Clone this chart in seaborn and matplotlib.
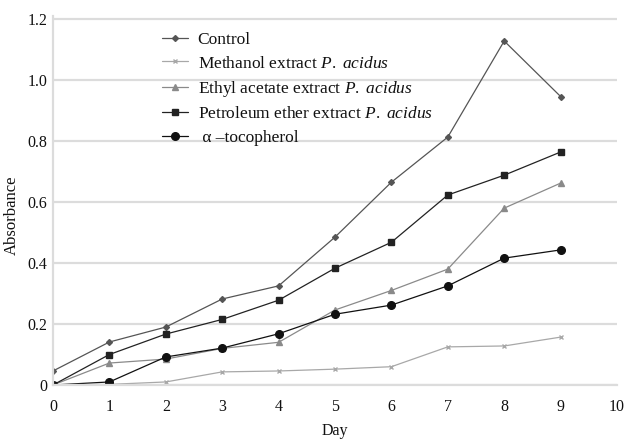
import matplotlib
matplotlib.use("Agg")
import matplotlib.pyplot as plt
import seaborn as sns
import pandas as pd

days = [0, 1, 2, 3, 4, 5, 6, 7, 8, 9]
control = [0.046, 0.141, 0.190, 0.282, 0.325, 0.485, 0.665, 0.813, 1.128, 0.946]
methanol = [0.0, 0.002, 0.010, 0.043, 0.046, 0.052, 0.060, 0.125, 0.128, 0.157]
ethyl = [0.0, 0.072, 0.085, 0.120, 0.140, 0.246, 0.310, 0.380, 0.580, 0.662]
petroleum = [0.0, 0.100, 0.167, 0.215, 0.278, 0.383, 0.468, 0.623, 0.688, 0.764]
tocopherol = [0.0, 0.010, 0.092, 0.121, 0.168, 0.232, 0.262, 0.325, 0.416, 0.443]

series_names = [
    "Control",
    "Methanol extract $\\mathit{P.\\ acidus}$",
    "Ethyl acetate extract $\\mathit{P.\\ acidus}$",
    "Petroleum ether extract $\\mathit{P.\\ acidus}$",
    " \u03b1 \u2013tocopherol",
]
series_values = [control, methanol, ethyl, petroleum, tocopherol]
y_ticks = [0, 0.2, 0.4, 0.6, 0.8, 1.0, 1.2]
y_tick_labels = ["0", "0.2", "0.4", "0.6", "0.8", "1.0", "1.2"]
x_ticks = [0, 1, 2, 3, 4, 5, 6, 7, 8, 9, 10]

rows = []
for name, vals in zip(series_names, series_values):
    for d, v in zip(days, vals):
        rows.append({"Day": d, "Absorbance": v, "Series": name})
df = pd.DataFrame(rows)

sns.set_theme(style="white")
plt.rcParams["font.family"] = ["Liberation Serif", "DejaVu Serif"]
plt.rcParams["mathtext.fontset"] = "custom"
plt.rcParams["mathtext.rm"] = "Liberation Serif"
plt.rcParams["mathtext.it"] = "Liberation Serif:italic"

colors = ["#555555", "#a8a8a8", "#8a8a8a", "#222222", "#111111"]
markers = ["D", "x", "^", "s", "o"]
msizes = [3.0, 3.5, 4.0, 4.5, 5.5]
palette = dict(zip(series_names, colors))

fig = plt.figure(figsize=(6.27, 4.42), dpi=100)
ax = fig.add_axes([53 / 627, 1 - 385 / 442, (617 - 53) / 627, (385 - 16) / 442])

for name, col, mk, ms in zip(series_names, colors, markers, msizes):
    sub = df[df["Series"] == name]
    sns.lineplot(data=sub, x="Day", y="Absorbance", ax=ax, color=col,
                 marker=mk, markersize=ms, linewidth=0.9, label=name,
                 markeredgecolor=col, markerfacecolor=col, markeredgewidth=1.0)

ax.set_xlim(0, 10)
ax.set_ylim(0, 1.21)
ax.set_xticks(x_ticks)
ax.set_xticklabels([str(t) for t in x_ticks])
ax.set_yticks(y_ticks)
ax.set_yticklabels(y_tick_labels)
ax.tick_params(axis="both", length=0, labelsize=11.5, colors="#111111")
ax.tick_params(axis="y", pad=4)
ax.tick_params(axis="x", pad=10)

ax.grid(axis="y", color="#dcdcdc", linewidth=1.6)
ax.grid(axis="x", visible=False)
for s in ["top", "right"]:
    ax.spines[s].set_visible(False)
for s in ["left", "bottom"]:
    ax.spines[s].set_color("#dcdcdc")
    ax.spines[s].set_linewidth(1.6)

ax.set_xlabel("Day", fontsize=11.5, color="#111111", labelpad=6)
ax.set_ylabel("Absorbance", fontsize=12, color="#111111", labelpad=4)
ax.yaxis.set_label_coords(-0.058, 0.46)

handles, labels = ax.get_legend_handles_labels()
leg = ax.legend(handles, labels, loc="upper left", frameon=False,
                bbox_to_anchor=(155 / 627, 1 - 25 / 442),
                bbox_transform=fig.transFigure,
                fontsize=12.5, handlelength=1.5, handletextpad=0.55,
                labelspacing=0.42, borderaxespad=0)
for t in leg.get_texts():
    t.set_color("#111111")

fig.savefig("out.png", dpi=100)
